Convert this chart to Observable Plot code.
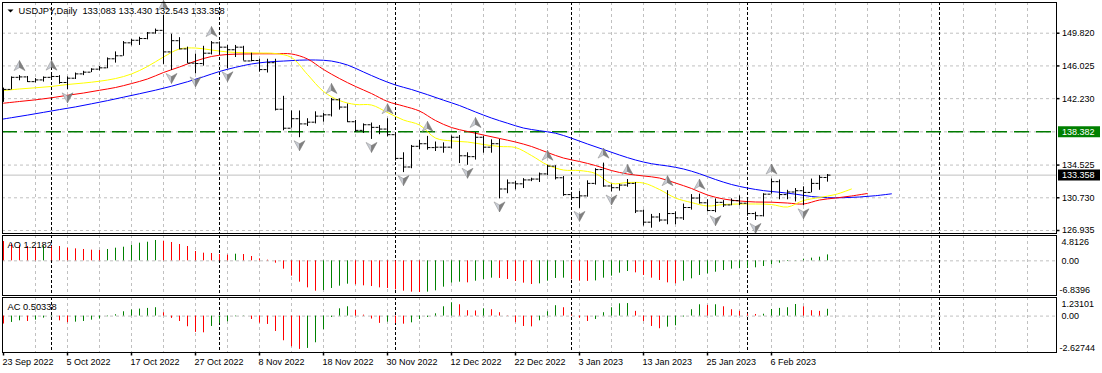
<!DOCTYPE html>
<html><head><meta charset="utf-8">
<script src="https://cdn.jsdelivr.net/npm/d3@7"></script>
<script src="https://cdn.jsdelivr.net/npm/@observablehq/plot@0.6"></script>
<style>
html,body{margin:0;padding:0;background:#fff;}
#chart{position:relative;width:1102px;height:373px;overflow:hidden;background:#fff;}
#chart svg{position:absolute;left:0;}
</style></head><body><div id="chart"></div>
<script>
// ---------- DATA (USDJPY Daily, bar index 0 = 23 Sep 2022) ----------
const opens = [142.40,143.30,144.70,144.75,144.20,144.40,144.70,144.80,144.10,144.60,
145.10,145.30,145.65,145.80,146.85,147.20,148.70,149.00,149.20,149.85,
150.15,147.65,148.95,148.00,146.35,146.30,147.50,148.70,148.20,147.90,
148.20,146.60,146.65,145.60,146.40,141.00,138.80,139.90,139.30,139.50,
140.20,140.35,142.10,141.25,139.55,138.55,139.20,138.90,138.70,138.05,
135.30,134.30,136.70,137.00,136.55,136.60,136.60,137.75,135.60,135.50,
137.75,136.60,137.00,131.75,132.45,132.35,132.80,132.90,133.50,134.40,
133.05,131.10,130.75,130.95,132.40,134.00,132.10,131.90,132.20,132.40,
129.20,127.90,128.50,128.15,128.90,128.40,129.60,130.70,130.15,129.25,
130.20,129.90,130.40,130.10,128.90,128.65,131.15,132.60,131.10,131.40,
131.55,131.35,132.40,133.083];
const highs = [143.45,144.75,144.90,144.80,144.55,144.75,144.95,144.90,144.75,145.20,
145.40,145.70,145.95,146.95,147.65,148.85,149.10,149.35,149.90,150.30,
151.90,149.70,149.30,148.20,147.40,148.30,148.85,148.80,148.40,148.40,
148.30,147.50,146.80,146.80,146.80,142.50,140.80,140.80,139.90,140.70,
140.50,142.25,142.20,141.60,139.70,139.30,139.40,139.10,139.90,138.15,
135.95,136.80,137.40,137.85,137.20,137.10,137.90,137.95,135.95,138.30,
137.85,137.45,137.50,132.80,132.65,132.95,133.00,133.60,134.50,134.45,
133.20,131.35,131.45,132.70,134.10,134.75,132.30,132.30,132.85,132.50,
129.30,128.80,128.90,131.55,129.10,130.00,131.10,131.15,130.50,130.60,
130.40,130.60,130.95,130.40,129.05,131.20,132.90,132.80,131.60,131.80,
132.00,132.90,133.30,133.430];
const lows = [141.80,143.25,144.30,144.10,144.05,144.15,144.35,143.90,143.25,144.45,
144.90,145.25,145.45,145.70,146.35,147.15,148.35,148.40,149.05,149.70,
146.20,145.50,147.90,146.30,145.10,146.00,147.30,147.30,145.70,147.00,
146.60,146.50,145.30,145.20,140.80,138.50,138.80,137.70,139.00,139.30,
139.50,140.10,140.90,139.45,138.30,138.20,137.50,138.05,137.80,135.00,
133.65,134.10,136.30,136.25,136.10,135.90,136.40,134.70,134.50,135.10,
135.90,135.90,130.60,131.20,131.65,131.80,132.60,132.50,133.30,132.80,
130.90,130.45,129.50,130.80,132.20,131.95,131.40,131.50,131.95,128.90,
127.45,127.20,127.90,127.60,127.60,128.10,129.30,130.00,129.10,129.00,
129.60,129.80,129.80,128.60,128.10,128.50,131.15,130.50,130.50,130.25,
129.80,131.30,131.60,132.543];
const closes = [143.30,144.70,144.75,144.20,144.40,144.70,144.80,144.10,144.60,145.10,
145.30,145.65,145.80,146.85,147.20,148.70,149.00,149.20,149.85,150.15,
147.65,148.95,148.00,146.35,146.30,147.50,148.70,148.20,147.90,148.20,
146.60,146.65,145.60,146.40,141.00,138.80,139.90,139.30,139.50,140.20,
140.35,142.10,141.25,139.55,138.55,139.20,138.90,138.70,138.05,135.30,
134.30,136.70,137.00,136.55,136.60,136.60,137.75,135.60,135.50,137.75,
136.60,137.00,131.75,132.45,132.35,132.80,132.90,133.50,134.40,133.05,
131.10,130.75,130.95,132.40,134.00,132.10,131.90,132.20,132.40,129.20,
127.90,128.50,128.15,128.90,128.40,129.60,130.70,130.15,129.25,130.20,
129.90,130.40,130.10,128.90,128.65,131.15,132.60,131.10,131.40,131.55,
131.35,132.40,133.10,133.358];

// Fractals (bar indices)
const fractalUp = [2,6,20,26,41,48,53,59,68,75,78,83,87,96];
const fractalDown = [8,21,24,28,37,46,50,58,62,72,76,89,94,100];

// Alligator lines, read every 2nd bar
const lipsStart = 0;   // yellow
const lipsValues = [143.17,143.35,143.49,143.64,143.87,144.04,144.25,144.56,145.09,145.96,
147.06,147.99,148.10,147.87,147.64,147.56,147.52,147.46,147.00,145.03,
143.06,142.01,141.55,141.49,140.62,139.75,139.17,137.66,137.32,137.20,
136.91,136.68,136.56,135.63,134.53,133.95,133.89,133.55,132.39,132.50,
132.44,131.69,130.70,130.18,129.78,129.95,130.01,130.01,129.95,129.66,
130.41,130.76,131.11,131.75];
const teethStart = 0;  // red
const teethValues = [141.70,141.90,142.09,142.33,142.62,142.88,143.20,143.52,143.98,144.51,
145.26,145.90,146.59,147.12,147.35,147.41,147.43,147.43,147.41,146.83,
145.61,144.56,143.64,142.82,141.90,141.37,140.79,139.69,138.88,138.42,
138.01,137.61,137.20,136.68,135.98,135.34,134.94,134.47,133.89,133.49,
133.26,133.02,132.44,131.81,131.05,130.59,130.36,130.24,130.22,130.12,
130.01,130.47,130.70,130.94,131.23];
const jawStart = -1;   // blue
const jawValues = [139.72,140.02,140.32,140.64,140.96,141.27,141.63,142.00,142.40,142.80,
143.21,143.67,144.19,144.77,145.38,145.86,146.25,146.48,146.59,146.69,
146.71,146.59,146.13,145.32,144.51,143.81,143.29,142.69,142.05,141.43,
140.68,139.98,139.38,138.82,138.51,138.22,137.64,136.97,136.33,135.69,
135.11,134.68,134.42,134.07,133.52,132.85,132.27,131.86,131.56,131.37,
131.15,130.88,130.74,130.74,130.82,130.97,131.19];
const lineStep = 2;

// Awesome Oscillator
const aoValues = [3.95,3.47,3.13,2.93,2.79,3.05,2.98,2.93,2.59,2.45,
2.32,2.18,2.11,2.32,2.59,2.79,3.20,3.61,3.81,4.16,
4.02,3.75,3.34,2.93,1.91,1.57,1.50,1.29,1.16,1.36,
1.29,0.89,0.41,0.14,-0.48,-1.70,-3.13,-4.36,-5.52,-6.20,
-6.06,-5.65,-5.18,-4.77,-4.90,-5.11,-5.25,-5.52,-5.65,-5.93,
-6.20,-6.40,-6.47,-6.40,-6.13,-5.38,-4.56,-4.36,-4.50,-4.16,
-3.81,-3.54,-3.60,-3.81,-4.22,-4.56,-4.84,-4.70,-4.16,-3.60,
-3.54,-3.88,-4.16,-4.20,-4.10,-3.54,-3.13,-2.52,-2.18,-2.45,
-2.99,-3.54,-4.02,-4.50,-4.70,-4.16,-3.68,-2.99,-2.66,-2.32,
-1.98,-1.70,-1.60,-1.50,-1.43,-1.16,-0.82,-0.48,-0.14,0.05,
0.34,0.55,0.75,1.2182];
// Accelerator Oscillator
const acValues = [-0.59,-0.47,-0.35,-0.40,-0.30,-0.15,-0.05,-0.35,-0.49,-0.45,
-0.40,-0.30,-0.22,-0.05,0.10,0.32,0.45,0.52,0.57,0.62,
0.25,-0.17,-0.40,-0.79,-1.21,-1.24,-0.77,-0.54,-0.42,-0.05,
0.02,-0.25,-0.52,-0.62,-1.14,-1.83,-2.28,-2.47,-2.40,-1.98,
-1.01,-0.10,0.54,0.69,0.42,0.07,-0.22,-0.54,-0.45,-0.55,
-0.60,-0.50,-0.25,-0.10,0.17,0.69,0.99,0.84,0.40,0.38,
0.54,0.47,0.25,0.02,-0.49,-0.77,-0.80,-0.35,0.32,0.77,
0.62,0.07,-0.15,-0.40,-0.25,0.25,0.62,0.91,0.93,0.35,
-0.40,-0.77,-0.94,-0.82,-0.72,-0.07,0.47,0.84,0.79,0.84,
0.69,0.47,0.35,0.15,0.12,0.14,0.49,0.57,0.62,0.86,
0.69,0.40,0.35,0.50338];

// Scales / tick labels
const priceLabels = [126.935,130.730,134.525,142.230,146.025,149.820];
const priceGrid = [126.935,130.730,134.525,138.3775,142.230,146.025,149.820];
const levelPrice = 138.382;
const bidPrice = 133.358;
const aoMax = 4.8126, aoMin = -6.8396;
const acMax = 1.23101, acMin = -2.62744;
const dateTickIdx = [0,8,16,24,32,40,48,56,64,72,80,88,96];
const dateLabels = ["23 Sep 2022","5 Oct 2022","17 Oct 2022","27 Oct 2022","8 Nov 2022","18 Nov 2022","30 Nov 2022","12 Dec 2022","22 Dec 2022","3 Jan 2023","13 Jan 2023","25 Jan 2023","6 Feb 2023"];
const separators = [6,27,49,71,93,117];
const titleText = "USDJPY,Daily\u00a0\u00a0133.083 133.430 132.543 133.358";
const aoTitle = "AO 1.2182";
const acTitle = "AC 0.50338";

// ---------- BUILD ----------
const bars = opens.map((o,i)=>({i, o, h: highs[i], l: lows[i], c: closes[i]}));
const toLine = (vals, start) => vals.map((v,k)=>({i: start + k*lineStep, v}));
const lips = toLine(lipsValues, lipsStart), teeth = toLine(teethValues, teethStart), jaw = toLine(jawValues, jawStart);
const GREEN = "#008000", RED = "#ff0000";
const osc = vals => vals.map((v,i)=>({i, v, color: (i>0 && v > vals[i-1]) ? GREEN : RED}));
const aoData = osc(aoValues), acData = osc(acValues);

const FONT = "'Liberation Sans', Arial, sans-serif";
const X = {type: "linear", domain: [0, 100], range: [3, 803], axis: null};
const GRID = "#c0c0c0";
const gridIdx = d3.range(4, 132, 4);
const style = {background: "transparent", overflow: "visible", fontFamily: FONT, fontSize: "9px", color: "#000"};

const sym = f => ({draw: f});
const upL = sym(c=>{c.moveTo(0,-5);c.lineTo(-5.5,5);c.lineTo(0,2);c.closePath();});
const upR = sym(c=>{c.moveTo(0,-5);c.lineTo(5.5,5);c.lineTo(0,2);c.closePath();});
const dnL = sym(c=>{c.moveTo(0,5);c.lineTo(-5.5,-5);c.lineTo(0,-2);c.closePath();});
const dnR = sym(c=>{c.moveTo(0,5);c.lineTo(5.5,-5);c.lineTo(0,-2);c.closePath();});
const hTick = sym(c=>{c.moveTo(0,0);c.lineTo(3,0);});
const vTick = sym(c=>{c.moveTo(0,0);c.lineTo(0,3);});
const box = sym(c=>{c.rect(1.5,-5.5,42,11);});
const tri = sym(c=>{c.moveTo(-3,-1.5);c.lineTo(3,-1.5);c.lineTo(0,1.5);c.closePath();});

const commonGrid = [
  Plot.ruleX(gridIdx, {x: d=>d, stroke: GRID, strokeDasharray: "3,3"}),
];
const seps = Plot.ruleX(separators, {x: d=>d, stroke: "#000", strokeDasharray: "3,2"});

const main = Plot.plot({
  width: 1102, height: 236,
  marginLeft: 2, marginRight: 46, marginTop: 2, marginBottom: 3,
  x: X,
  y: {domain: [126.935, 149.820], range: [230, 32.7], axis: null},
  style,
  marks: [
    ...commonGrid,
    Plot.ruleY(priceGrid, {y: d=>d, stroke: GRID, strokeDasharray: "3,3"}),
    seps,
    Plot.ruleY([bidPrice], {y: d=>d, stroke: GRID}),
    Plot.ruleY([levelPrice], {y: d=>d, stroke: "#007a00", strokeWidth: 1.4, strokeDasharray: "15,7"}),
    Plot.line(jaw, {x: "i", y: "v", stroke: "#0000ff", strokeWidth: 1, curve: "catmull-rom", clip: true}),
    Plot.line(teeth, {x: "i", y: "v", stroke: "#ff0000", strokeWidth: 1, curve: "catmull-rom", clip: true}),
    Plot.line(lips, {x: "i", y: "v", stroke: "#ffff00", strokeWidth: 1, curve: "catmull-rom", clip: true}),
    Plot.ruleX(bars, {x: "i", y1: "l", y2: "h", stroke: "#000", clip: true}),
    Plot.ruleY(bars, {y: "o", x1: d=>d.i-0.375, x2: "i", dx: -0.5, stroke: "#000", clip: true}),
    Plot.ruleY(bars, {y: "c", x1: "i", x2: d=>d.i+0.375, dx: 0.5, stroke: "#000", clip: true}),
    Plot.dot(fractalUp, {x: d=>d, y: d=>highs[d], dy: -10, symbol: upL, fill: "#c8ccd4", stroke: "#8a8a8a", strokeWidth: 0.5}),
    Plot.dot(fractalUp, {x: d=>d, y: d=>highs[d], dy: -10, symbol: upR, fill: "#808080", stroke: "#707070", strokeWidth: 0.5}),
    Plot.dot(fractalDown, {x: d=>d, y: d=>lows[d], dy: 8, symbol: dnL, fill: "#c8ccd4", stroke: "#8a8a8a", strokeWidth: 0.5}),
    Plot.dot(fractalDown, {x: d=>d, y: d=>lows[d], dy: 8, symbol: dnR, fill: "#808080", stroke: "#707070", strokeWidth: 0.5}),
    Plot.frame({stroke: "#000"}),
    Plot.dot(priceLabels, {y: d=>d, frameAnchor: "right", symbol: hTick, fill: "none", stroke: "#000"}),
    Plot.text(priceLabels, {y: d=>d, frameAnchor: "right", text: d=>d.toFixed(3), textAnchor: "start", dx: 5.5, fontSize: 9, fill: "#000"}),
    Plot.dot([levelPrice], {y: d=>d, frameAnchor: "right", symbol: box, fill: "#008000", stroke: "none"}),
    Plot.text([levelPrice], {y: d=>d, frameAnchor: "right", text: d=>d.toFixed(3), textAnchor: "start", dx: 5.5, fontSize: 9, fill: "#fff"}),
    Plot.dot([bidPrice], {y: d=>d, frameAnchor: "right", symbol: box, fill: "#000", stroke: "none"}),
    Plot.text([bidPrice], {y: d=>d, frameAnchor: "right", text: d=>d.toFixed(3), textAnchor: "start", dx: 5.5, fontSize: 9, fill: "#fff"}),
    Plot.dot([0], {frameAnchor: "top-left", dx: 8, dy: 8.5, symbol: tri, fill: "#000", stroke: "none"}),
    Plot.text([titleText], {frameAnchor: "top-left", dx: 16, dy: 5, textAnchor: "start", lineAnchor: "top", fontSize: 9.3, fill: "#000"})
  ]
});

const ao = Plot.plot({
  width: 1102, height: 64,
  marginLeft: 2, marginRight: 46, marginTop: 2, marginBottom: 2,
  x: X,
  y: {domain: [aoMin, aoMax], range: [60.8, 3.8], axis: null},
  style,
  marks: [
    ...commonGrid,
    Plot.ruleY([0], {y: d=>d, stroke: GRID, strokeDasharray: "3,3"}),
    seps,
    Plot.ruleX(aoData, {x: "i", y1: 0, y2: "v", stroke: d=>d.color}),
    Plot.frame({stroke: "#000"}),
    Plot.text([aoMax], {y: d=>d, frameAnchor: "right", text: d=>d.toFixed(4), textAnchor: "start", lineAnchor: "top", dx: 5, dy: 1, fontSize: 9, fill: "#000"}),
    Plot.text([0], {y: d=>d, frameAnchor: "right", text: d=>d.toFixed(2), textAnchor: "start", dx: 5, fontSize: 9, fill: "#000"}),
    Plot.text([aoMin], {y: d=>d, frameAnchor: "right", text: d=>d.toFixed(4), textAnchor: "start", lineAnchor: "bottom", dx: 3, dy: -1, fontSize: 9, fill: "#000"}),
    Plot.text([aoTitle], {frameAnchor: "top-left", dx: 5, dy: 6, textAnchor: "start", lineAnchor: "top", fontSize: 9.3, fill: "#000"})
  ]
});

const ac = Plot.plot({
  width: 1102, height: 78,
  marginLeft: 2, marginRight: 46, marginTop: 2, marginBottom: 21,
  x: X,
  y: {domain: [acMin, acMax], range: [56, 4], axis: null},
  style,
  marks: [
    ...commonGrid,
    Plot.ruleY([0], {y: d=>d, stroke: GRID, strokeDasharray: "3,3"}),
    seps,
    Plot.ruleX(acData, {x: "i", y1: 0, y2: "v", stroke: d=>d.color}),
    Plot.frame({stroke: "#000"}),
    Plot.text([acMax], {y: d=>d, frameAnchor: "right", text: d=>d.toFixed(5), textAnchor: "start", lineAnchor: "top", dx: 5, dy: 1, fontSize: 9, fill: "#000"}),
    Plot.text([0], {y: d=>d, frameAnchor: "right", text: d=>d.toFixed(2), textAnchor: "start", dx: 5, fontSize: 9, fill: "#000"}),
    Plot.text([acMin], {y: d=>d, frameAnchor: "right", text: d=>d.toFixed(5), textAnchor: "start", lineAnchor: "bottom", dx: 3, dy: -1, fontSize: 9, fill: "#000"}),
    Plot.text([acTitle], {frameAnchor: "top-left", dx: 5, dy: 6, textAnchor: "start", lineAnchor: "top", fontSize: 9.3, fill: "#000"}),
    Plot.dot(dateTickIdx, {x: d=>d, frameAnchor: "bottom", symbol: vTick, fill: "none", stroke: "#000"}),
    Plot.text(dateTickIdx, {x: d=>d, frameAnchor: "bottom", text: (d,k)=>dateLabels[k], textAnchor: "start", lineAnchor: "top", dx: -1, dy: 6, fontSize: 9, fill: "#000"})
  ]
});

const host = document.getElementById("chart");
[[main,0],[ao,233],[ac,295]].forEach(([svg, top])=>{
  svg.style.position = "absolute";
  svg.style.top = top + "px";
  svg.style.left = "0px";
  host.appendChild(svg);
});
</script>
</body></html>
